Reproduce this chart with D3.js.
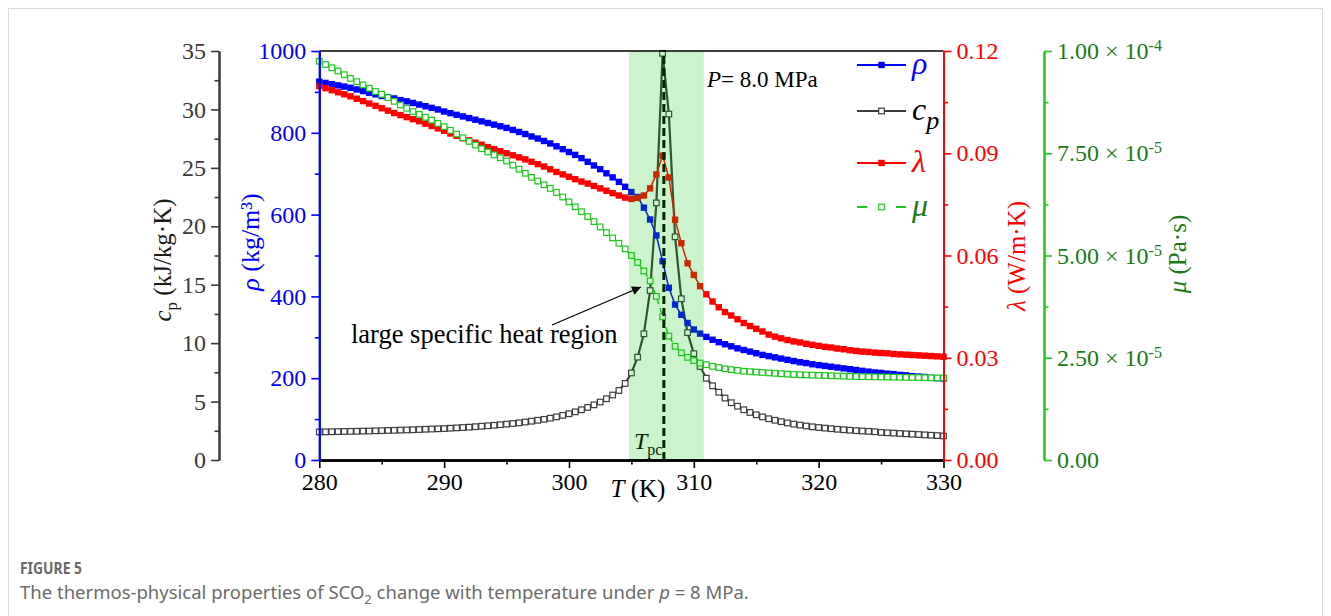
<!DOCTYPE html>
<html>
<head>
<meta charset="utf-8">
<script src="https://cdn.jsdelivr.net/npm/d3@7"></script>
<style>
  body { margin: 0; background: #fff; }
  svg text { font-family: "Liberation Serif", "Times New Roman", serif; }
  svg text.cap { font-family: "Noto Sans", "Liberation Sans", sans-serif; }
</style>
</head>
<body>
<svg id="chart" width="1331" height="616"></svg>
<script>
// temperature (K), 0.5 K steps
const temps = [280,280.5,281,281.5,282,282.5,283,283.5,284,284.5,285,285.5,286,286.5,287,287.5,288,288.5,289,289.5,
  290,290.5,291,291.5,292,292.5,293,293.5,294,294.5,295,295.5,296,296.5,297,297.5,298,298.5,299,299.5,
  300,300.5,301,301.5,302,302.5,303,303.5,304,304.5,305,305.5,306,306.5,307,307.5,308,308.5,309,309.5,
  310,310.5,311,311.5,312,312.5,313,313.5,314,314.5,315,315.5,316,316.5,317,317.5,318,318.5,319,319.5,
  320,320.5,321,321.5,322,322.5,323,323.5,324,324.5,325,325.5,326,326.5,327,327.5,328,328.5,329,329.5,330];

// density rho (kg/m3)
const rho = [925,922,919,916,913,910,906,902,898,894,890,887,884,880,877,873,869,865,861,857,
  852,848,844,840,836,832,828,824,820,816,812,807,802,797,791,786,780,774,767,760,
  753,746,738,729,720,711,701,691,680,668,655,643,617,588,549,486,421,380,355,335,
  319,309,301,294,288,283,278,273,269,265,261,257,254,251,248,245,242,239,237,234,
  232,230,228,226,224,222,220,218,216,214,213,211,210,208,207,205,204,203,201,200,199];

// specific heat cp (kJ/kg.K)
const cp = [2.40,2.41,2.42,2.43,2.44,2.45,2.46,2.47,2.48,2.50,2.51,2.53,2.54,2.56,2.57,2.59,2.61,2.63,2.65,2.67,
  2.69,2.72,2.75,2.78,2.81,2.85,2.89,2.93,2.97,3.02,3.07,3.12,3.18,3.25,3.32,3.40,3.48,3.58,3.69,3.82,
  3.96,4.12,4.30,4.50,4.72,4.96,5.24,5.56,5.95,6.55,7.45,8.8,10.8,14.5,22.0,34.8,29.6,19.1,13.8,10.9,
  9.1,8.0,7.0,6.35,5.8,5.3,4.9,4.6,4.3,4.07,3.87,3.69,3.53,3.40,3.28,3.17,3.07,2.99,2.91,2.84,
  2.78,2.73,2.68,2.63,2.59,2.55,2.51,2.48,2.45,2.42,2.36,2.33,2.30,2.27,2.24,2.21,2.18,2.15,2.12,2.09,2.06];

// thermal conductivity lambda (W/m.K)
const lambda = [0.1097,0.1091,0.1085,0.1079,0.1073,0.1067,0.1060,0.1053,0.1046,0.1039,0.1032,0.1025,0.1018,0.1012,0.1006,0.1000,0.0994,0.0987,0.0980,0.0973,
  0.0966,0.0958,0.0951,0.0944,0.0938,0.0931,0.0925,0.0918,0.0912,0.0906,0.0900,0.0894,0.0888,0.0882,0.0875,0.0868,0.0861,0.0853,0.0845,0.0838,
  0.0831,0.0824,0.0817,0.0811,0.0804,0.0797,0.0790,0.0783,0.0776,0.0770,0.0766,0.0769,0.0776,0.0797,0.0838,0.0893,0.0829,0.0705,0.0636,0.0577,
  0.0543,0.0510,0.0486,0.0465,0.0448,0.0434,0.0424,0.0413,0.0402,0.0393,0.0385,0.0377,0.0368,0.0362,0.0357,0.0352,0.0348,0.0345,0.0341,0.0338,
  0.0335,0.0332,0.0330,0.0327,0.0325,0.0322,0.0320,0.0318,0.0317,0.0315,0.0314,0.0313,0.0311,0.0310,0.0309,0.0308,0.0307,0.0306,0.0305,0.0304,0.0303];

// dynamic viscosity mu (Pa.s)
const mu = [97.5e-6,96.7e-6,95.9e-6,95.1e-6,94.2e-6,93.3e-6,92.5e-6,91.7e-6,90.9e-6,90.1e-6,89.4e-6,88.6e-6,87.7e-6,86.8e-6,86.0e-6,85.2e-6,84.5e-6,83.8e-6,83.1e-6,82.3e-6,
  81.5e-6,80.6e-6,79.7e-6,78.8e-6,77.9e-6,77.0e-6,76.1e-6,75.3e-6,74.6e-6,73.9e-6,73.1e-6,72.1e-6,71.1e-6,70.1e-6,69.1e-6,68.2e-6,67.3e-6,66.4e-6,65.4e-6,64.3e-6,
  63.1e-6,61.9e-6,60.7e-6,59.5e-6,58.3e-6,57.0e-6,55.6e-6,54.3e-6,53.0e-6,51.6e-6,50.0e-6,48.3e-6,46.2e-6,43.8e-6,40.0e-6,35.0e-6,30.3e-6,27.8e-6,26.2e-6,25.1e-6,
  24.3e-6,23.7e-6,23.3e-6,22.9e-6,22.6e-6,22.3e-6,22.1e-6,21.9e-6,21.7e-6,21.6e-6,21.5e-6,21.4e-6,21.3e-6,21.2e-6,21.1e-6,21.0e-6,20.9e-6,20.85e-6,20.8e-6,20.75e-6,
  20.7e-6,20.65e-6,20.6e-6,20.55e-6,20.5e-6,20.45e-6,20.4e-6,20.38e-6,20.35e-6,20.32e-6,20.3e-6,20.27e-6,20.25e-6,20.22e-6,20.2e-6,20.17e-6,20.15e-6,20.12e-6,20.1e-6,20.07e-6,20.05e-6];

// tick labels
const tTicks = [280, 290, 300, 310, 320, 330];
const cpTicks = [0, 5, 10, 15, 20, 25, 30, 35];
const rhoTicks = [0, 200, 400, 600, 800, 1000];
const lamTicks = [0, 0.03, 0.06, 0.09, 0.12];
const muTicks = [0, 2.5e-5, 5e-5, 7.5e-5, 1e-4];

const tpc = 307.6;            // pseudo-critical temperature
const region = [304.8, 310.8]; // large specific heat region

const svg = d3.select("#chart");

const pLeft = 319.3, pRight = 943.5, pTop = 51, pBottom = 460;
const x = d3.scaleLinear().domain([280, 330]).range([pLeft, pRight]);
const yCp = d3.scaleLinear().domain([0, 35]).range([pBottom, pTop]);
const yRho = d3.scaleLinear().domain([0, 1000]).range([pBottom, pTop]);
const yLam = d3.scaleLinear().domain([0, 0.12]).range([pBottom, pTop]);
const yMu = d3.scaleLinear().domain([0, 1e-4]).range([pBottom, pTop]);

// card frame
svg.append("rect").attr("x", 8.5).attr("y", 8.5).attr("width", 1314).attr("height", 640)
  .attr("fill", "none").attr("stroke", "#dcdcdc");

function minorsOf(ticks) {
  const out = [];
  for (let i = 0; i < ticks.length - 1; i++) out.push((ticks[i] + ticks[i + 1]) / 2);
  return out;
}

function addAxis(orient, scale, pos, ticks, color, textColor, fmt) {
  const make = orient === "left" ? d3.axisLeft : orient === "right" ? d3.axisRight : d3.axisBottom;
  const g = svg.append("g")
    .attr("transform", orient === "bottom" ? "translate(0," + pos + ")" : "translate(" + pos + ",0)");
  g.call(make(scale).tickValues(ticks).tickSize(8).tickSizeOuter(0).tickPadding(5).tickFormat(fmt));
  g.append("g").call(make(scale).tickValues(minorsOf(ticks)).tickSize(4.5).tickSizeOuter(0).tickFormat(""));
  g.selectAll("path").attr("stroke", color).attr("stroke-width", 2);
  g.selectAll("line").attr("stroke", color).attr("stroke-width", 1.6);
  g.selectAll("text").attr("fill", textColor).attr("font-size", 24)
    .attr("font-family", "Liberation Serif, Times New Roman, serif");
  return g;
}

// series
const series = [
  { name: "cp", vals: cp, y: yCp, color: "#3c3c3c", open: true, width: 2.2 },
  { name: "rho", vals: rho, y: yRho, color: "#0000ff", open: false, width: 1.5 },
  { name: "lambda", vals: lambda, y: yLam, color: "#ff0000", open: false, width: 1.5 },
  { name: "mu", vals: mu, y: yMu, color: "#1ec81e", open: true, width: 1.5, dash: "6,4" }
];

const plot = svg.append("g");
series.forEach(s => {
  const pts = temps.map((t, i) => [t, s.vals[i]]);
  plot.append("path").datum(pts)
    .attr("fill", "none").attr("stroke", s.color).attr("stroke-width", s.width)
    .attr("stroke-dasharray", s.dash || null)
    .attr("d", d3.line().x(d => x(d[0])).y(d => s.y(d[1])));
  const sz = s.open ? 5.6 : 6.4;
  plot.append("g").selectAll("rect").data(pts).enter().append("rect")
    .attr("x", d => x(d[0]) - sz / 2).attr("y", d => s.y(d[1]) - sz / 2)
    .attr("width", sz).attr("height", sz)
    .attr("fill", s.open ? "#fff" : s.color)
    .attr("stroke", s.open ? s.color : "none").attr("stroke-width", 1.2);
});

// Tpc dashed line and label
svg.append("line").attr("x1", x(tpc)).attr("x2", x(tpc)).attr("y1", pBottom).attr("y2", pTop)
  .attr("stroke", "#000").attr("stroke-width", 3).attr("stroke-dasharray", "8,4");
const tl = svg.append("text").attr("x", 634).attr("y", 449).attr("font-size", 24).attr("fill", "#000");
tl.append("tspan").attr("font-style", "italic").text("T");
tl.append("tspan").attr("dy", 6).attr("font-size", 16).text("pc");

// shaded region overlay
svg.append("rect").attr("x", x(region[0])).attr("y", pTop)
  .attr("width", x(region[1]) - x(region[0])).attr("height", pBottom - pTop)
  .attr("fill", "#00c800").attr("opacity", 0.2);

// top frame line
svg.append("line").attr("x1", pLeft).attr("x2", pRight).attr("y1", pTop).attr("y2", pTop)
  .attr("stroke", "#000").attr("stroke-width", 1.5);

// axes
addAxis("bottom", x, pBottom, tTicks, "#000", "#000", d3.format("d"))
  .selectAll("path").attr("stroke-width", 2.5);
addAxis("left", yCp, 219, cpTicks, "#3a3a3a", "#3a3a3a", d3.format("d"));
addAxis("left", yRho, pLeft, rhoTicks, "#0000ff", "#0000ff", d3.format("d"));
addAxis("right", yLam, pRight, lamTicks, "#ff0000", "#ff0000", d3.format(".2f"));
const muAxis = addAxis("right", yMu, 1044, muTicks, "#1ec81e", "#1a7a1a", d3.format(".2f"));
muAxis.selectAll(":scope > .tick text").each(function (d) {
  const t = d3.select(this);
  if (d === 0) { t.text("0.00"); return; }
  const e = Math.floor(Math.log10(d) + 1e-9);
  const m = d / Math.pow(10, e);
  t.text(null);
  t.append("tspan").text(m.toFixed(2) + " \u00d7 10");
  t.append("tspan").attr("dy", "-0.5em").attr("font-size", 16).text(String(e));
});

// axis titles
const xt = svg.append("text").attr("x", 638).attr("y", 497).attr("text-anchor", "middle")
  .attr("font-size", 25).attr("fill", "#000");
xt.append("tspan").attr("font-style", "italic").text("T");
xt.append("tspan").text(" (K)");

function vTitle(cx, cy, color, size, parts) {
  const t = svg.append("text").attr("transform", "translate(" + cx + "," + cy + ") rotate(-90)")
    .attr("text-anchor", "middle").attr("font-size", size).attr("fill", color);
  parts.forEach(p => {
    const s = t.append("tspan").text(p.text);
    if (p.italic) s.attr("font-style", "italic");
    if (p.dy) s.attr("dy", p.dy);
    if (p.size) s.attr("font-size", p.size);
  });
}
vTitle(171, 260, "#1a1a1a", 25, [{ text: "c", italic: true }, { text: "p", dy: 6, size: 17 }, { text: " (kJ/kg\u00b7K)", dy: -6 }]);
vTitle(259, 242, "#0000ff", 26, [{ text: "\u03c1", italic: true }, { text: " (kg/m\u00b3)" }]);
vTitle(1025, 256, "#ff0000", 25, [{ text: "\u03bb", italic: true }, { text: " (W/m\u00b7K)" }]);
vTitle(1186, 254, "#1a7a1a", 25, [{ text: "\u03bc", italic: true }, { text: " (Pa\u00b7s)" }]);

// annotations
const pt = svg.append("text").attr("x", 707).attr("y", 87).attr("font-size", 23).attr("fill", "#000");
pt.append("tspan").attr("font-style", "italic").text("P");
pt.append("tspan").text("= 8.0 MPa");

svg.append("defs").append("marker").attr("id", "arr").attr("viewBox", "0 0 10 10")
  .attr("refX", 10).attr("refY", 5).attr("markerWidth", 14).attr("markerHeight", 9)
  .attr("markerUnits", "userSpaceOnUse").attr("orient", "auto")
  .append("path").attr("d", "M0,0 L10,5 L0,10 Z").attr("fill", "#000");
svg.append("line").attr("x1", 552).attr("y1", 325).attr("x2", 641).attr("y2", 287)
  .attr("stroke", "#000").attr("stroke-width", 1.3).attr("marker-end", "url(#arr)");
svg.append("text").attr("x", 351).attr("y", 343).attr("font-size", 26.5).attr("fill", "#000")
  .text("large specific heat region");

// legend
const legend = [
  { label: "\u03c1", color: "#0000ff", tcolor: "#0000ff", open: false },
  { label: "c", sub: "p", color: "#3c3c3c", tcolor: "#000", open: true },
  { label: "\u03bb", color: "#ff0000", tcolor: "#ff0000", open: false },
  { label: "\u03bc", color: "#1ec81e", tcolor: "#1a7a1a", open: true, dash: true }
];
const legY = [65, 111, 163, 207];
legend.forEach((l, i) => {
  const g = svg.append("g").attr("transform", "translate(0," + legY[i] + ")");
  if (l.dash) {
    g.append("line").attr("x1", 857).attr("x2", 867).attr("stroke", l.color).attr("stroke-width", 2);
    g.append("line").attr("x1", 896).attr("x2", 906).attr("stroke", l.color).attr("stroke-width", 2);
  } else {
    g.append("line").attr("x1", 857).attr("x2", 906).attr("stroke", l.color).attr("stroke-width", 2);
  }
  const sz = l.open ? 5.6 : 6.4;
  g.append("rect").attr("x", 881.5 - sz / 2).attr("y", -sz / 2).attr("width", sz).attr("height", sz)
    .attr("fill", l.open ? "#fff" : l.color).attr("stroke", l.open ? l.color : "none").attr("stroke-width", 1.2);
  const t = g.append("text").attr("x", 912).attr("y", 9).attr("font-size", 32)
    .attr("font-style", "italic").attr("fill", l.tcolor).text(l.label);
  if (l.sub) t.append("tspan").attr("dy", 9).attr("font-size", 26).text(l.sub);
});

// caption
svg.append("text").attr("class", "cap").attr("x", 20).attr("y", 574).attr("font-size", 16)
  .attr("font-weight", "bold").attr("fill", "#6a6a6a")
  .attr("textLength", 62).attr("lengthAdjust", "spacingAndGlyphs").text("FIGURE 5");
const cap = svg.append("text").attr("class", "cap").attr("x", 20).attr("y", 599)
  .attr("font-size", 18.5).attr("fill", "#6b6b6b");
cap.append("tspan").text("The thermos-physical properties of SCO");
cap.append("tspan").attr("dy", 5).attr("font-size", 13).text("2");
cap.append("tspan").attr("dy", -5).text(" change with temperature under ");
cap.append("tspan").attr("font-style", "italic").text("p");
cap.append("tspan").text(" = 8 MPa.");
</script>
</body>
</html>
